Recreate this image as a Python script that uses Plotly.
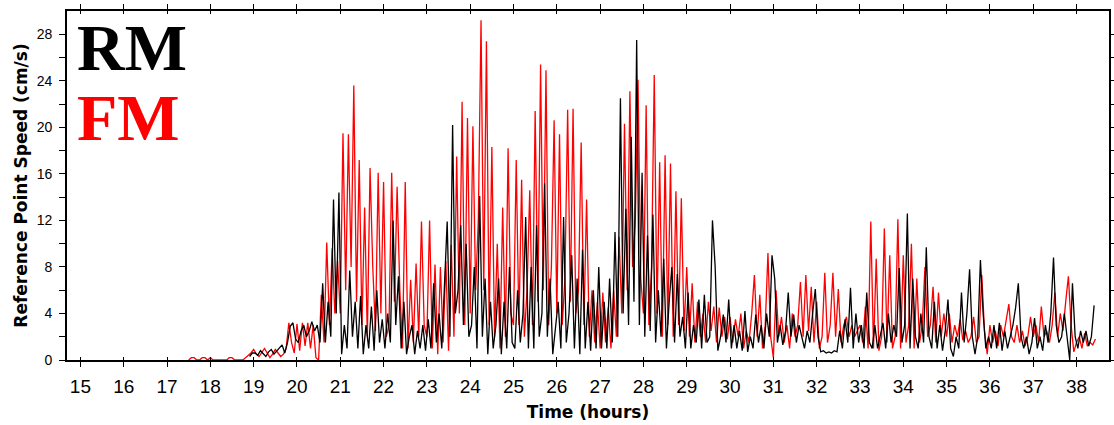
import numpy as np
import plotly.graph_objects as go

# ---------------- data ----------------
FM_START = 17.5          # hours, first FM sample
RM_START = 18.90625      # hours, first RM sample
SAMPLE_STEP = 1 / 16     # hours between samples

fm_speed = [
    # 17.5
    0, 0.2, 0.2, 0, 0, 0.2, 0.2, 0,
    # 18
    0.2, 0, 0, 0, 0, 0, 0, 0.2, 0.2, 0, 0, 0, 0, 0.2, 0.4, 0.6,
    # 19
    0.9, 0.5, 0.3, 0.7, 1.0, 0.6, 0.2, 0.5, 0.9, 0.6, 0.3, 0.5, 1.0, 3.2, 1.5, 0.6,
    # 20
    3.1, 0.8, 3.2, 1.2, 3.2, 1.0, 3.0, 0.2, 0.0, 5.6, 1.5, 10.1, 3.0, 9.6, 4.0, 8.5,
    # 21
    4.0, 19.5, 6.0, 19.4, 8.0, 23.6, 5.0, 17.2, 3.0, 13.1, 2.0, 16.5, 8.0, 2.5, 16.1, 4.0,
    # 22
    15.3, 2.0, 3.0, 16.1, 5.0, 14.9, 6.0, 1.0, 15.3, 1.0, 6.9, 1.5, 8.3, 2.0, 11.9, 3.0,
    # 23
    2.0, 12.0, 1.0, 8.2, 0.5, 8.0, 1.5, 8.5, 0.8, 9.9, 2.0, 17.5, 4.0, 22.2, 3.0, 20.8,
    # 24
    4.0, 20.1, 6.0, 12.0, 29.2, 6.0, 27.4, 3.0, 18.3, 2.0, 10.0, 1.0, 13.1, 2.0, 18.2, 4.0,
    # 25
    3.0, 17.2, 3.0, 15.5, 2.0, 6.0, 14.6, 3.0, 21.4, 5.0, 25.4, 6.0, 24.9, 3.0, 8.0, 20.6,
    # 26
    4.0, 19.4, 3.0, 7.0, 21.5, 5.0, 21.6, 4.0, 6.0, 18.7, 3.0, 13.8, 2.0, 6.0, 1.5, 5.0,
    # 27
    1.0, 5.8, 1.5, 4.5, 1.0, 6.0, 2.0, 10.6, 4.0, 20.3, 6.0, 23.1, 8.0, 12.0, 24.1, 7.0,
    # 28
    4.0, 21.9, 3.0, 8.0, 24.5, 4.0, 17.0, 2.0, 17.6, 3.0, 16.9, 2.0, 14.5, 3.0, 13.9, 2.5,
    # 29
    8.0, 2.0, 6.6, 1.5, 5.0, 2.0, 4.0, 1.5, 5.0, 2.5, 4.6, 1.5, 4.5, 2.0, 3.7, 1.8,
    # 30
    3.7, 1.5, 3.5, 2.0, 4.0, 1.0, 2.5, 1.5, 4.0, 7.3, 2.0, 5.6, 1.0, 3.0, 9.2, 2.0,
    # 31
    0.2, 6.0, 2.0, 3.7, 1.5, 3.0, 1.0, 4.0, 2.0, 3.0, 6.7, 2.0, 7.3, 2.5, 6.3, 1.5,
    # 32
    5.0, 1.0, 2.0, 7.5, 1.5, 3.0, 7.5, 2.0, 6.1, 1.5, 3.0, 3.7, 2.0, 3.0, 2.0, 2.5,
    # 33
    3.0, 1.5, 4.6, 1.0, 11.9, 1.0, 8.7, 0.8, 2.0, 11.3, 1.5, 9.0, 1.0, 2.0, 12.1, 1.0,
    # 34
    9.0, 1.5, 3.0, 10.0, 1.0, 7.0, 1.5, 3.0, 8.0, 2.0, 3.0, 6.3, 1.5, 5.8, 2.0, 4.0,
    # 35
    2.0, 4.0, 1.5, 3.0, 2.0, 3.5, 1.7, 2.5, 1.5, 2.0, 3.7, 1.5, 2.0, 7.3, 2.5, 0.5,
    # 36
    3.0, 1.5, 2.5, 1.2, 3.0, 2.0, 3.5, 4.8, 2.0, 1.5, 3.0, 1.5, 2.5, 1.2, 2.0, 3.7,
    # 37
    2.0, 3.0, 1.5, 4.6, 2.0, 2.5, 1.5, 3.0, 5.8, 2.0, 4.0, 2.5, 5.0, 7.2, 3.0, 0.7,
    # 38
    1.5, 2.0, 1.0, 2.3, 1.2, 1.5, 1.3, 1.8,
]

rm_speed = [
    # 18.9
    0.3, 0.6,
    # 19
    0.6, 0.4, 0.8, 0.5, 0.3, 0.7, 0.9, 0.5, 0.8, 1.0, 1.3, 0.6, 1.5, 2.9, 3.2, 1.8,
    # 20
    1.5, 2.5, 3.0, 2.0, 2.5, 3.3, 2.5, 3.0, 1.5, 6.6, 1.5, 5.0, 2.0, 13.8, 4.0, 14.4,
    # 21
    0.5, 3.0, 1.0, 7.7, 2.0, 5.0, 1.0, 5.5, 0.5, 3.0, 1.0, 4.6, 0.8, 6.0, 1.5, 3.5,
    # 22
    1.0, 4.0, 1.5, 12.0, 3.0, 7.2, 1.0, 5.0, 0.5, 2.0, 3.0, 0.5, 2.5, 1.0, 3.0, 0.8,
    # 23
    3.5, 1.0, 6.6, 1.5, 4.0, 1.0, 6.0, 11.9, 2.0, 20.2, 4.0, 6.0, 11.6, 3.0, 10.0, 2.0,
    # 24
    3.0, 8.0, 1.0, 14.1, 2.0, 7.0, 0.5, 5.0, 1.0, 3.0, 7.0, 0.5, 5.0, 1.0, 8.0, 1.5,
    # 25
    1.0, 6.0, 1.5, 4.0, 12.3, 1.0, 8.0, 1.0, 11.6, 2.0, 4.0, 15.2, 2.0, 7.0, 0.5, 3.0,
    # 26
    5.0, 1.0, 12.3, 1.5, 4.0, 9.0, 1.0, 7.0, 0.5, 9.5, 1.0, 5.0, 0.8, 6.0, 1.0, 8.0,
    # 27
    1.0, 5.0, 1.0, 7.0, 1.5, 11.0, 2.0, 22.5, 4.0, 13.0, 3.0, 19.2, 5.0, 27.5, 3.0, 16.1,
    # 28
    2.0, 10.7, 2.5, 12.5, 1.5, 6.0, 2.0, 8.7, 1.0, 5.0, 8.0, 1.5, 7.4, 2.0, 3.7, 1.0,
    # 29
    5.8, 1.0, 3.0, 1.5, 5.2, 1.0, 5.6, 1.5, 2.0, 12.0, 8.0, 0.8, 2.0, 3.9, 1.5, 5.2,
    # 30
    1.0, 3.0, 1.0, 2.5, 0.8, 4.2, 0.7, 2.0, 1.0, 3.9, 1.5, 3.0, 1.0, 4.0, 2.0, 9.0,
    # 31
    7.0, 1.5, 3.0, 1.3, 2.5, 5.8, 2.0, 3.9, 1.5, 3.0, 2.0, 1.0, 2.5, 1.5, 4.0, 6.1,
    # 32
    2.0, 0.7, 0.8, 0.6, 0.7, 0.6, 0.8, 0.7, 2.5, 1.0, 3.5, 1.5, 6.2, 1.0, 4.0, 1.5,
    # 33
    3.0, 1.0, 5.8, 1.5, 1.0, 3.0, 1.0, 2.0, 3.2, 1.0, 4.0, 1.5, 3.0, 2.0, 7.9, 1.5,
    # 34
    3.0, 12.6, 1.0, 7.0, 2.0, 1.0, 4.0, 1.5, 9.7, 2.0, 1.0, 5.0, 1.0, 3.0, 0.8, 2.5,
    # 35
    5.2, 1.0, 0.3, 2.0, 1.0, 5.8, 1.5, 4.0, 7.8, 2.0, 0.5, 2.0, 8.6, 4.0, 1.0, 2.0,
    # 36
    1.0, 3.0, 1.0, 3.2, 0.8, 2.5, 1.0, 2.0, 3.0, 4.5, 6.6, 2.0, 1.0, 2.0, 0.5, 1.5,
    # 37
    3.6, 1.0, 2.0, 0.8, 3.0, 1.5, 4.0, 8.8, 3.0, 1.5, 2.0, 4.0, 2.0, 0.0, 6.6, 2.0,
    # 38
    1.0, 2.5, 1.5, 2.5, 1.2, 2.0, 4.7,
]

x_tick_vals = list(range(15, 39))
y_tick_vals = list(range(0, 30, 2))
y_tick_text = [str(v) if v % 4 == 0 else "" for v in y_tick_vals]

series_names = ["RM", "FM"]
series_colors = ["#000000", "#ff0000"]

fm_time = FM_START + SAMPLE_STEP * np.arange(len(fm_speed))
rm_time = RM_START + SAMPLE_STEP * np.arange(len(rm_speed))

# ---------------- figure ----------------
fig = go.Figure()
fig.add_trace(go.Scatter(x=fm_time, y=fm_speed, mode="lines", name=series_names[1],
                         line=dict(color=series_colors[1], width=1.3),
                         xaxis="x", yaxis="y"))
fig.add_trace(go.Scatter(x=rm_time, y=rm_speed, mode="lines", name=series_names[0],
                         line=dict(color=series_colors[0], width=1.3),
                         xaxis="x2", yaxis="y"))

X_RANGE = [14.69, 38.75]
axis_col = "#000000"

fig.update_layout(
    width=1114, height=425,
    margin=dict(l=67, r=5, t=11, b=65, autoexpand=False),
    paper_bgcolor="white", plot_bgcolor="white",
    showlegend=False,
    xaxis=dict(
        range=X_RANGE, tickmode="array", tickvals=x_tick_vals,
        ticks="outside", ticklen=5, tickwidth=1.3, tickcolor=axis_col,
        showline=True, linecolor=axis_col, linewidth=1.6, mirror="ticks",
        showgrid=False, zeroline=False, automargin=False,
        tickfont=dict(family="Liberation Sans", size=19, color="#000"),
        ticklabelstandoff=3,
        title=dict(text="<b>Time (hours)</b>",
                   font=dict(family="DejaVu Sans", size=17, color="#000"),
                   standoff=11),
    ),
    xaxis2=dict(
        overlaying="x", matches="x", range=X_RANGE, tickmode="array",
        tickvals=x_tick_vals, ticks="inside", ticklen=3, tickwidth=1.3,
        tickcolor=axis_col, mirror="ticks", showline=False,
        showticklabels=False, showgrid=False, zeroline=False, automargin=False,
    ),
    yaxis=dict(
        range=[0, 30], tickmode="array", tickvals=y_tick_vals, ticktext=y_tick_text,
        ticks="outside", ticklen=6, tickwidth=1.3, tickcolor=axis_col,
        showline=True, linecolor=axis_col, linewidth=1.6, mirror="ticks",
        showgrid=False, zeroline=False, automargin=False,
        tickfont=dict(family="Liberation Sans", size=14, color="#000"),
        ticklabelstandoff=4,
        title=dict(text="<b>Reference Point Speed (cm/s)</b>",
                   font=dict(family="DejaVu Sans", size=17, color="#000"),
                   standoff=5),
    ),
)

# big series labels (legend) in the upper-left corner
PLOT_L, PLOT_W = 67.3, 1041.7
PLOT_B, PLOT_H = 360.3, 349.3
LABEL_SIZE = 66
for name, color, cap_center_y in zip(series_names, series_colors, [47.5, 118.0]):
    fig.add_annotation(
        text=f"<b>{name}</b>", xref="paper", yref="paper",
        x=(76 - PLOT_L) / PLOT_W, y=(PLOT_B - cap_center_y) / PLOT_H,
        xanchor="left", yanchor="middle", showarrow=False, borderpad=0,
        font=dict(family="Liberation Serif", size=LABEL_SIZE, color=color),
    )

# the page's default 8px body margin would shift the whole figure
fig.write_html("out.html", config={"displayModeBar": False},
               post_script="document.body.style.margin='0px';")
